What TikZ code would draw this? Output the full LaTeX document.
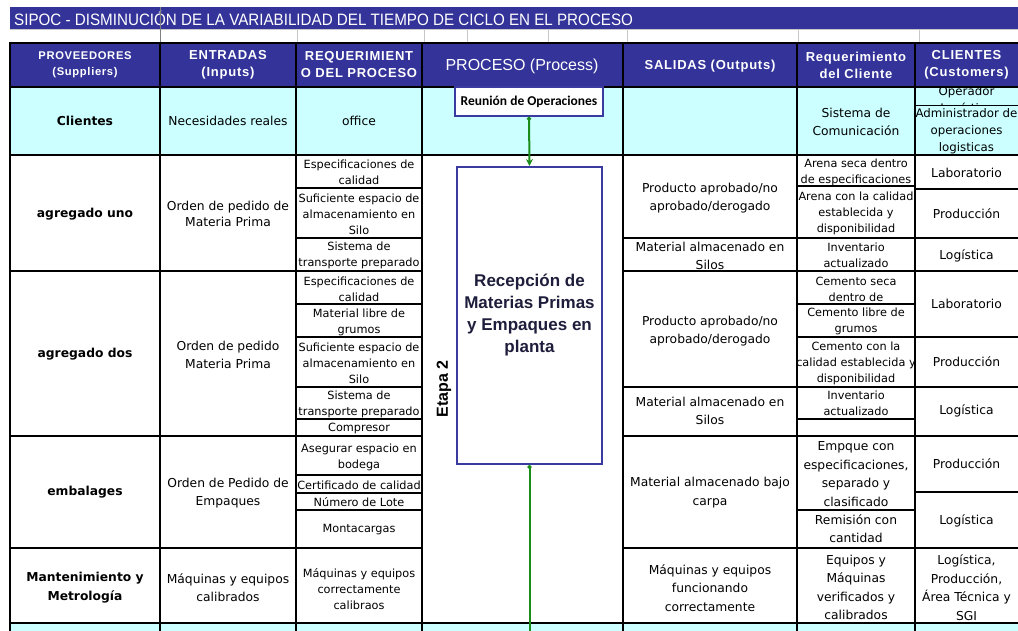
\documentclass[tikz,border=0pt]{standalone}
\usepackage{fontspec}
\setmainfont{DejaVu Sans}
\newfontfamily\arialf{Liberation Sans}
\newfontfamily\titlef[FakeStretch=0.92]{Liberation Sans}
\newfontfamily\hdrf[LetterSpace=6]{Liberation Sans}
\newfontfamily\calibf{Carlito}
\usetikzlibrary{arrows.meta}

\definecolor{hdrblue}{HTML}{333399}
\definecolor{lcyan}{HTML}{CCFFFF}
\definecolor{boxblue}{HTML}{3A3AA0}
\definecolor{flowgreen}{HTML}{1A8C1A}
\definecolor{gridgray}{HTML}{C8C8C8}
\definecolor{boxtext}{HTML}{1E1E3C}

\tikzset{
  base/.style={inner sep=0pt, align=center, anchor=center},
  tn/.style={base, font=\fontsize{12.3}{18.5}\selectfont},
  ts/.style={base, font=\fontsize{11.3}{16}\selectfont},
  tb/.style={base, font=\bfseries\fontsize{12.3}{19}\selectfont},
  th/.style={base, text=white, font=\hdrf\bfseries\fontsize{13}{17}\selectfont},
  thsmall/.style={base, text=white, font=\hdrf\bfseries\fontsize{11.2}{16}\selectfont},
  thickb/.style={line width=2.4pt, line cap=rect},
  medb/.style={line width=1.8pt},
  thinb/.style={line width=1.2pt},
  procbox/.style={draw=boxblue, fill=white, inner sep=0pt, align=center},
  flow/.style={flowgreen, line width=2pt},
}

\begin{document}
\begin{tikzpicture}[x=1pt,y=-1pt]
\useasboundingbox (0,0) rectangle (1018,631);

% ---- title bar and spacer row ----
\fill[hdrblue] (10,7) rectangle (1018,29);
\node[anchor=west, inner sep=0pt, text=white, font=\titlef\fontsize{16.5}{18}\selectfont] (title) at (14,18.5)
  {SIPOC - DISMINUCIÓN DE LA VARIABILIDAD DEL TIEMPO DE CICLO EN EL PROCESO};
\draw[gridgray, line width=0.8pt] (10,29.5) -- (1018,29.5);
\foreach \x in {297,424,467,548,627,798,919}
  \draw[gridgray, line width=0.8pt] (\x,29.5) -- (\x,43);
\draw[gray, line width=0.8pt] (160,7) -- (160,43);

% ---- fills ----
\fill[hdrblue] (10,43) rectangle (1018,87);
\fill[lcyan] (10,87) rectangle (1018,155);
\fill[lcyan] (10,623) rectangle (1018,631);

% ---- sub-cell lines ----
\foreach \y in {188,238,304,337,387,419,475,493,510}
  \draw[thinb] (296,\y) -- (422,\y);
\foreach \y in {238,387}
  \draw[thinb] (623,\y) -- (797,\y);
\foreach \y in {186,238,304,337,387,419,510}
  \draw[thinb] (797,\y) -- (915,\y);
\foreach \y in {189,238,337,387,492}
  \draw[medb] (915,\y) -- (1018,\y);
\draw[line width=1pt] (915,106) -- (1018,106);

% ---- main grid ----
\foreach \y in {43,87,155,623}
  \draw[thickb] (10,\y) -- (1018,\y);
\foreach \y in {271,436,548} {
  \draw[thickb] (10,\y) -- (422,\y);
  \draw[thickb] (623,\y) -- (1018,\y);
}
\foreach \x in {10,160,296,422,623,797,915}
  \draw[thickb] (\x,43) -- (\x,631);

% ---- header texts ----
\node[thsmall] (hA) at (85,65) {PROVEEDORES\\(Suppliers)};
\node[th] (hB) at (228,65) {ENTRADAS\\(Inputs)};
\node[th] (hC) at (359,65) {REQUERIMIENT\\O DEL PROCESO};
\node[base, text=white, font=\arialf\fontsize{16}{18}\selectfont] (hD) at (522,66) {PROCESO (Process)};
\node[th] (hE) at (710,66) {SALIDAS (Outputs)};
\node[th] (hF) at (856,65) {Requerimiento\\del Cliente};
\node[th] (hG) at (966.5,65) {CLIENTES\\(Customers)};

% ---- row: Clientes ----
\node[tb] (aCli) at (85,121) {Clientes};
\node[tn] (bCli) at (228,121) {Necesidades reales};
\node[tn] (cCli) at (359,121) {office};
\node[tn] (fCli) at (856,122) {Sistema de\\Comunicación};
\begin{scope}
  \clip (916,88) rectangle (1018,105.5);
  \node[base, font=\fontsize{11.8}{17}\selectfont] (gOper) at (966.5,92) {Operador};
  \node[base, font=\fontsize{11.8}{17}\selectfont] (gLog) at (966.5,109.5) {Logística};
\end{scope}
\node[base, font=\fontsize{11.8}{17}\selectfont] (gAdm) at (966.5,131.5) {Administrador de\\operaciones\\logisticas};

% ---- row: agregado uno ----
\node[tb] (aAg1) at (85,214) {agregado uno};
\node[tn, font=\fontsize{12.3}{16.5}\selectfont] (bAg1) at (228,214) {Orden de pedido de\\Materia Prima};
\node[ts] (cAg1a) at (359,172.5) {Especificaciones de\\calidad};
\node[ts] (cAg1b) at (359,214) {Suficiente espacio de\\almacenamiento en\\Silo};
\node[ts] (cAg1c) at (359,255.5) {Sistema de\\transporte preparado};
\node[tn] (eAg1a) at (710,198) {Producto aprobado/no\\aprobado/derogado};
\node[tn] (eAg1b) at (710,256) {Material almacenado en\\Silos};
\node[ts] (fAg1a) at (856,172) {Arena seca dentro\\de especificaciones};
\node[ts] (fAg1b) at (856,213) {Arena con la calidad\\establecida y\\disponibilidad};
\node[ts] (fAg1c) at (856,255) {Inventario\\actualizado};
\node[tn] (gAg1a) at (966.5,173) {Laboratorio};
\node[tn] (gAg1b) at (966.5,214) {Producción};
\node[tn] (gAg1c) at (966.5,256) {Logística};

% ---- row: agregado dos ----
\node[tb] (aAg2) at (85,354) {agregado dos};
\node[tn] (bAg2) at (228,355) {Orden de pedido\\Materia Prima};
\node[ts] (cAg2a) at (359,289.5) {Especificaciones de\\calidad};
\node[ts] (cAg2b) at (359,322) {Material libre de\\grumos};
\node[ts] (cAg2c) at (359,363) {Suficiente espacio de\\almacenamiento en\\Silo};
\node[ts] (cAg2d) at (359,404) {Sistema de\\transporte preparado};
\node[ts] (cAg2e) at (359,428) {Compresor};
\node[tn] (eAg2a) at (710,331) {Producto aprobado/no\\aprobado/derogado};
\node[tn] (eAg2b) at (710,411) {Material almacenado en\\Silos};
\node[ts] (fAg2a) at (856,289.5) {Cemento seca\\dentro de};
\node[ts] (fAg2b) at (856,321.5) {Cemento libre de\\grumos};
\node[ts] (fAg2c) at (856,363) {Cemento con la\\calidad establecida y\\disponibilidad};
\node[ts] (fAg2d) at (856,403.5) {Inventario\\actualizado};
\node[tn] (gAg2a) at (966.5,304) {Laboratorio};
\node[tn] (gAg2b) at (966.5,362) {Producción};
\node[tn] (gAg2c) at (966.5,411) {Logística};

% ---- row: embalages ----
\node[tb] (aEmb) at (85,492) {embalages};
\node[tn] (bEmb) at (228,493) {Orden de Pedido de\\Empaques};
\node[ts] (cEmba) at (359,457) {Asegurar espacio en\\bodega};
\node[ts] (cEmbb) at (359,485) {Certificado de calidad};
\node[ts] (cEmbc) at (359,502) {Número de Lote};
\node[ts] (cEmbd) at (359,530) {Montacargas};
\node[tn] (eEmb) at (710,492.5) {Material almacenado bajo\\carpa};
\node[tn] (fEmba) at (856,474) {Empque con\\especificaciones,\\separado y\\clasificado};
\node[tn, font=\fontsize{12.3}{18}\selectfont] (fEmbb) at (856,529) {Remisión con\\cantidad};
\node[tn] (gEmba) at (966.5,464) {Producción};
\node[tn] (gEmbb) at (966.5,521) {Logística};

% ---- row: Mantenimiento y Metrología ----
\node[tb] (aMan) at (85,587.5) {Mantenimiento y\\Metrología};
\node[tn] (bMan) at (228,587.5) {Máquinas y equipos\\calibrados};
\node[ts] (cMan) at (359,589) {Máquinas y equipos\\correctamente\\calibraos};
\node[tn] (eMan) at (710,588) {Máquinas y equipos\\funcionando\\correctamente};
\node[tn] (fMan) at (856,587.5) {Equipos y\\Máquinas\\verificados y\\calibrados};
\node[tn] (gMan) at (966.5,587.5) {Logística,\\Producción,\\Área Técnica y\\SGI};

% ---- process column ----
\node[procbox, line width=1.6pt, minimum width=148pt, minimum height=29pt,
      font=\calibf\bfseries\fontsize{13.5}{15}\selectfont] (reunion) at (529,101.5) {Reunión de Operaciones};
\node[procbox, line width=2pt, minimum width=145pt, minimum height=297pt,
      text=boxtext, font=\arialf\bfseries\fontsize{17}{22}\selectfont] (recep) at (529.5,315.5)
      {Recepción de\\Materias Primas\\y Empaques en\\planta};
\node[base, rotate=90, font=\arialf\bfseries\fontsize{16}{18}\selectfont] (etapa) at (444,389) {Etapa 2};

\coordinate (flowend) at (529.5,631);
\draw[flow, {Circle[length=4pt]}-{Stealth[length=7pt,width=7pt]}] (reunion.south) -- (recep.north);
\draw[flow, {Circle[length=4pt]}-] (recep.south) -- (flowend);

\end{tikzpicture}
\end{document}
